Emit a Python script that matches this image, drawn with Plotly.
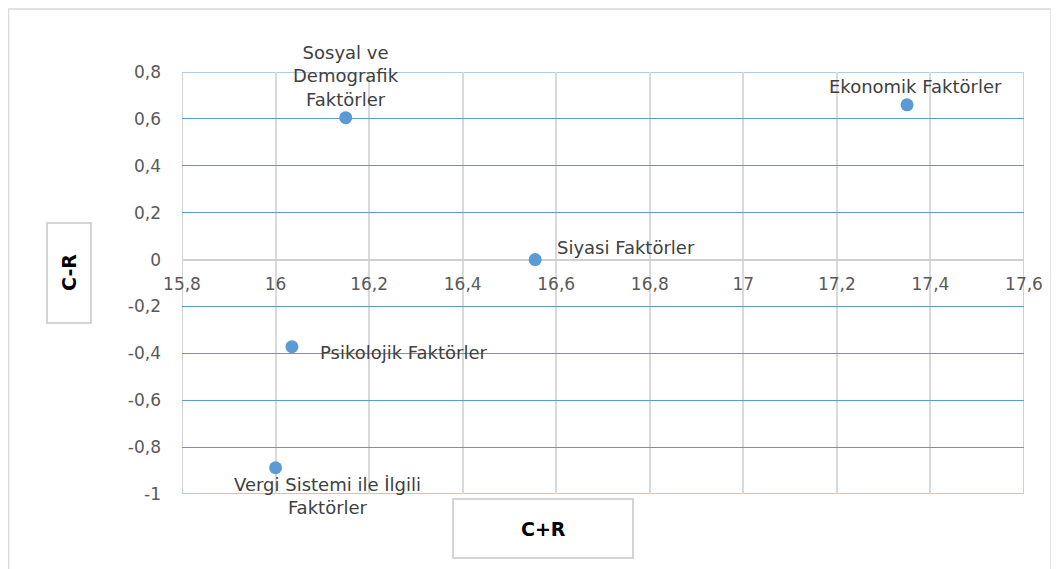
import plotly.graph_objects as go

# Data
factors = ['Sosyal ve<br>Demografik<br>Faktörler', 'Ekonomik Faktörler', 'Siyasi Faktörler',
           'Psikolojik Faktörler', 'Vergi Sistemi ile İlgili<br>Faktörler']
c_plus_r = [16.15, 17.35, 16.555, 16.035, 16.0]
c_minus_r = [0.605, 0.66, 0.0, -0.372, -0.888]

x_ticks = [15.8, 16.0, 16.2, 16.4, 16.6, 16.8, 17.0, 17.2, 17.4, 17.6]
x_tick_text = ['15,8', '16', '16,2', '16,4', '16,6', '16,8', '17', '17,2', '17,4', '17,6']
y_ticks = [-1.0, -0.8, -0.6, -0.4, -0.2, 0.0, 0.2, 0.4, 0.6, 0.8]
y_tick_text = ['-1', '-0,8', '-0,6', '-0,4', '-0,2', '0', '0,2', '0,4', '0,6', '0,8']

# label placement (anchor, shifts)
label_style = [
    dict(xanchor='center', yanchor='bottom', xshift=0, yshift=6),
    dict(xanchor='center', yanchor='bottom', xshift=8, yshift=6),
    dict(xanchor='left', yanchor='bottom', xshift=20, yshift=0),
    dict(xanchor='left', yanchor='middle', xshift=26, yshift=-6),
    dict(xanchor='center', yanchor='top', xshift=52, yshift=-4),
]

# page body has an 8px margin, so work in page pixels and subtract it
OFF = 8
W, H = 1059 - OFF, 569 - OFF
L, R, T, B = 182 - OFF, 35, 72 - OFF, 75
pw, ph = W - L - R, H - T - B


def px(x):
    return (x - OFF - L) / pw


def py(y):
    return (H - B - (y - OFF)) / ph


font = 'DejaVu Sans'
fig = go.Figure()
fig.add_trace(go.Scatter(
    x=c_plus_r, y=c_minus_r, mode='markers',
    marker=dict(color='#5B9BD5', size=13),
    hoverinfo='skip', showlegend=False,
))

annotations = []
for name, x, y, st in zip(factors, c_plus_r, c_minus_r, label_style):
    annotations.append(dict(x=x, y=y, text=name, showarrow=False,
                            font=dict(family=font, size=18, color='#404040'), **st))

# axis title boxes
annotations.append(dict(x=px(69), y=py(273), xref='paper', yref='paper', text='<b>C-R</b>',
                        xanchor='center', yanchor='middle', textangle=-90, showarrow=False,
                        font=dict(family=font, size=19, color='black')))
annotations.append(dict(x=px(543), y=py(529), xref='paper', yref='paper', text='<b>C+R</b>',
                        xanchor='center', yanchor='middle', showarrow=False,
                        font=dict(family=font, size=19, color='black')))

shapes = [
    dict(type='rect', xref='paper', yref='paper', x0=px(8.5), x1=px(1051), y0=py(600), y1=py(9),
         line=dict(color='#D9D9D9', width=1.5), layer='below'),
    dict(type='rect', xref='paper', yref='paper', x0=px(47), x1=px(91), y0=py(323), y1=py(223),
         line=dict(color='#C8C8C8', width=1.5)),
    dict(type='rect', xref='paper', yref='paper', x0=px(453), x1=px(633), y0=py(558), y1=py(499),
         line=dict(color='#C8C8C8', width=1.5)),
]
# frame lines at the axis range ends (plotly skips gridlines on the edges)
for yv in (y_ticks[0], y_ticks[-1]):
    shapes.append(dict(type='line', xref='x domain', yref='y', x0=0, x1=1, y0=yv, y1=yv,
                       line=dict(color='#5B9BD5', width=1), layer='below'))
for xv in (x_ticks[0], x_ticks[-1]):
    shapes.append(dict(type='line', xref='x', yref='y domain', x0=xv, x1=xv, y0=0, y1=1,
                       line=dict(color='#D0D0D0', width=2), layer='below'))

fig.update_layout(
    width=W, height=H,
    margin=dict(l=L, r=R, t=T, b=B),
    paper_bgcolor='white', plot_bgcolor='white',
    annotations=annotations, shapes=shapes,
    xaxis=dict(range=[x_ticks[0], x_ticks[-1]], tickvals=x_ticks, ticktext=x_tick_text,
               showgrid=True, gridcolor='#D9D9D9', gridwidth=2,
               zeroline=False, showline=False, ticks='',
               anchor='free', position=py(260), ticklabelstandoff=12,
               tickfont=dict(family=font, size=17, color='#595959')),
    yaxis=dict(range=[y_ticks[0], y_ticks[-1]], tickvals=y_ticks, ticktext=y_tick_text,
               showgrid=True, gridcolor='#5B9BD5', gridwidth=1,
               zeroline=True, zerolinecolor='#D0D0D0', zerolinewidth=2,
               showline=False, ticks='',
               ticklabelstandoff=20,
               tickfont=dict(family=font, size=17, color='#595959')),
)

fig.write_html('out.html')
